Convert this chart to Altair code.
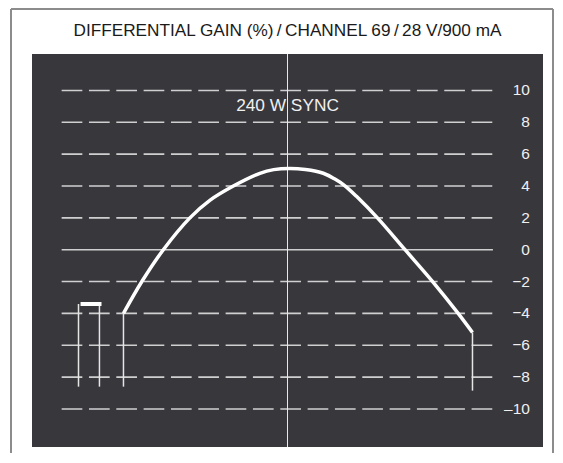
import altair as alt
import pandas as pd

# ---- data ----
tick_values = [10, 8, 6, 4, 2, 0, -2, -4, -6, -8, -10]
tick_labels = ["10", "8", "6", "4", "2", "0", "\u22122", "\u22124", "\u22126", "\u22128", "\u201310"]

curve_x = [-32.1, -28.5, -24.3, -19.1, -15.2, -10.6, -5.4, -2.7, 0.5, 3.5, 7.0, 9.2, 11.3, 13.5, 17.6, 23.0, 28.4, 33.4, 36.2]
curve_y = [-4.0, -2.0, 0.0, 2.0, 3.1, 4.0, 4.8, 5.03, 5.1, 5.03, 4.8, 4.45, 4.0, 3.35, 2.0, 0.0, -2.0, -4.0, -5.2]

marker_x = [-40.9, -36.8, -32.1, 36.2]
marker_top = [-3.41, -3.41, -4.0, -5.2]
marker_bottom = [-8.6, -8.6, -8.6, -8.85]

sync_x = [-40.5]
sync_x2 = [-36.4]
sync_y = [-3.41]

grid_start = -44.2
grid_end = 40.2
label_x = 47.45
center_x = 0.0

annotation = "240 W SYNC"
annotation_x = [0.0]
annotation_y = [8.73]

title_text = "DIFFERENTIAL GAIN (%)\u2009/\u2009CHANNEL 69\u2009/\u200928 V/900 mA"

# ---- scales ----
XS = alt.Scale(domain=[-50, 50], nice=False, zero=False)
YS = alt.Scale(domain=[-12.39, 12.29], nice=False, zero=False)
FONT = "Liberation Sans, Arial, Helvetica, sans-serif"

grid_df = pd.DataFrame({
    "y": [v for v in tick_values if v != 0],
    "x": grid_start,
    "x2": grid_end,
})
zero_df = pd.DataFrame({"y": [0], "x": [grid_start], "x2": [grid_end]})
curve_df = pd.DataFrame({"x": curve_x, "y": curve_y})
marker_df = pd.DataFrame({"x": marker_x, "y": marker_top, "y2": marker_bottom})
sync_df = pd.DataFrame({"x": sync_x, "x2": sync_x2, "y": sync_y})
label_df = pd.DataFrame({"y": tick_values, "label": tick_labels, "x": label_x})
ann_df = pd.DataFrame({"x": annotation_x, "y": annotation_y, "t": [annotation]})
center_df = pd.DataFrame({"x": [center_x]})
title_df = pd.DataFrame({"x": [center_x], "t": [title_text]})

grid = alt.Chart(grid_df).mark_rule(
    color="#cfcfcf", strokeWidth=1.6, strokeDash=[20.7, 6.63]
).encode(
    x=alt.X("x:Q", scale=XS, axis=None), x2="x2:Q",
    y=alt.Y("y:Q", scale=YS, axis=None),
)

zero = alt.Chart(zero_df).mark_rule(color="#cfcfcf", strokeWidth=1.6).encode(
    x=alt.X("x:Q", scale=XS, axis=None), x2="x2:Q",
    y=alt.Y("y:Q", scale=YS, axis=None),
)

center = alt.Chart(center_df).mark_rule(color="#e8e8e8", strokeWidth=1).encode(
    x=alt.X("x:Q", scale=XS, axis=None),
)

markers = alt.Chart(marker_df).mark_rule(color="#e6e6e6", strokeWidth=1.5).encode(
    x=alt.X("x:Q", scale=XS, axis=None),
    y=alt.Y("y:Q", scale=YS, axis=None), y2="y2:Q",
)

sync = alt.Chart(sync_df).mark_rule(color="#ffffff", strokeWidth=4).encode(
    x=alt.X("x:Q", scale=XS, axis=None), x2="x2:Q",
    y=alt.Y("y:Q", scale=YS, axis=None),
)

curve = alt.Chart(curve_df).mark_line(
    color="#ffffff", strokeWidth=3.5, interpolate="catmull-rom"
).encode(
    x=alt.X("x:Q", scale=XS, axis=None),
    y=alt.Y("y:Q", scale=YS, axis=None),
)

labels = alt.Chart(label_df).mark_text(
    align="right", baseline="middle", font=FONT, fontSize=15.5, color="#f0f0f0"
).encode(
    x=alt.X("x:Q", scale=XS, axis=None),
    y=alt.Y("y:Q", scale=YS, axis=None),
    text="label:N",
)

ann = alt.Chart(ann_df).mark_text(
    align="center", baseline="alphabetic", font=FONT, fontSize=17.3, color="#f0f0f0"
).encode(
    x=alt.X("x:Q", scale=XS, axis=None),
    y=alt.Y("y:Q", scale=YS, axis=None),
    text="t:N",
)

title = alt.Chart(title_df).mark_text(
    align="center", baseline="alphabetic", font=FONT, fontSize=17.2, color="#1a1a1a"
).encode(
    x=alt.X("x:Q", scale=XS, axis=None),
    y=alt.value(-18),
    text="t:N",
)

frame_left = alt.Chart(center_df).mark_rule(color="#8c8c8c", strokeWidth=2).encode(
    x=alt.value(-21), y=alt.value(-45), y2=alt.value(420)
)
frame_top = alt.Chart(center_df).mark_rule(color="#8c8c8c", strokeWidth=2).encode(
    x=alt.value(-21), x2=alt.value(521), y=alt.value(-45)
)
frame_right = alt.Chart(center_df).mark_rule(color="#8c8c8c", strokeWidth=2).encode(
    x=alt.value(521), y=alt.value(-45), y2=alt.value(420)
)

chart = alt.layer(
    grid, zero, center, markers, sync, curve, labels, ann, title,
    frame_left, frame_top, frame_right,
).properties(
    width=511,
    height=393,
    autosize=alt.AutoSizeParams(type="none"),
    padding={"left": 24, "top": 46, "right": 11, "bottom": 6},
).configure_view(fill="#38373c", strokeWidth=0)

chart.save("out.html", embed_options={"renderer": "svg", "actions": False})
